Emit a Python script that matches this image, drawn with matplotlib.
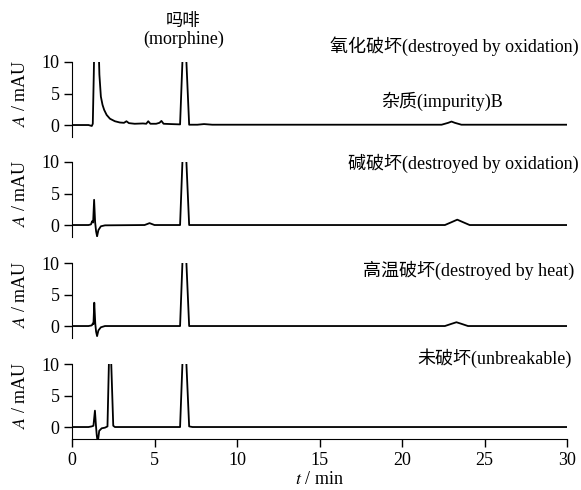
import numpy as np
import matplotlib
matplotlib.use('Agg')
import matplotlib.pyplot as plt

plt.rcParams['font.family'] = ['Liberation Serif', 'Noto Sans CJK SC']
plt.rcParams['mathtext.fontset'] = 'stix'

# chromatogram traces: (t / min, A / mAU)
oxid_t = [0, 1.0, 1.2, 1.26, 1.32, 1.36, 1.6, 1.66, 1.75, 1.85, 1.95, 2.1, 2.3, 2.6, 2.9, 3.15, 3.3, 3.45,
          3.8, 4.3, 4.5, 4.62, 4.75, 5.1, 5.3, 5.42, 5.55, 6.0, 6.55, 6.72, 6.9, 7.1, 7.6,
          8.0, 8.5, 22.4, 22.8, 23.0, 23.2, 23.6, 30]
oxid_A = [0, 0, -0.15, 0.2, 8, 14, 14, 8, 4.5, 3.2, 2.4, 1.6, 1.0, 0.6, 0.4, 0.35, 0.6, 0.3,
          0.2, 0.25, 0.2, 0.6, 0.2, 0.2, 0.35, 0.65, 0.2, 0.15, 0.1, 12, 12, 0.05, 0.05,
          0.15, 0.05, 0.05, 0.35, 0.55, 0.35, 0.05, 0.05]

base_t = [0, 1.0, 1.15, 1.22, 1.28, 1.34, 1.4, 1.46, 1.52, 1.6, 1.75, 2.0, 4.4, 4.7, 5.0, 6.55,
          6.72, 6.9, 7.1, 8.0, 22.6, 23.0, 23.35, 23.7, 24.1, 30]
base_A = [0, 0, 0.1, 0.6, 0.4, 4.0, 0.5, -1.0, -1.8, -0.8, -0.2, -0.05, 0.0, 0.3, 0.0, 0.0,
          12, 12, 0.0, 0.0, 0.0, 0.45, 0.85, 0.45, 0.0, 0.0]

heat_t = [0, 1.0, 1.2, 1.26, 1.3, 1.35, 1.41, 1.46, 1.52, 1.6, 1.75, 2.0, 6.55,
          6.72, 6.9, 7.1, 8.0, 22.6, 23.0, 23.3, 23.6, 24.0, 30]
heat_A = [0, 0, 0.1, 0.4, 0.3, 3.7, 0.4, -0.9, -1.6, -0.7, -0.2, 0.0, 0.0,
          12, 12, 0.0, 0.0, 0.0, 0.35, 0.6, 0.35, 0.0, 0.0]

none_t = [0, 1.0, 1.2, 1.3, 1.39, 1.45, 1.5, 1.56, 1.65, 1.8, 2.0, 2.15, 2.27, 2.33, 2.5,
          2.6, 6.55, 6.72, 6.9, 7.1, 7.3, 8.0, 30]
none_A = [0, 0, 0.1, 0.2, 2.6, 0.3, -1.3, -2.5, -0.6, -0.2, -0.1, 0.1, 14, 14, 0.2,
          0.0, 0.0, 12, 12, 0.1, 0.0, 0.0, 0.0]

traces = [(oxid_t, oxid_A), (base_t, base_A), (heat_t, heat_A), (none_t, none_A)]

# panel captions: (text, t, A)
captions = [
    ('氧化破坏(destroyed by oxidation)', 30.7, 12.5),
    ('碱破坏(destroyed by oxidation)', 30.7, 9.8),
    ('高温破坏(destroyed by heat)', 30.45, 8.9),
    ('未破坏(unbreakable)', 30.3, 11.0),
]

fig = plt.figure(figsize=(5.81, 4.90), dpi=100)

W, H = 581.0, 490.0
left, right = 72 / W, 567 / W
tops = [62, 162, 263, 364]
ph = 75  # panel height in pixels

axes = []
for i, (t, A) in enumerate(traces):
    ax = fig.add_axes([left, 1 - (tops[i] + ph) / H, right - left, ph / H])
    ax.plot(t, A, color='black', lw=1.3)
    ax.set_xlim(0, 30)
    ax.set_ylim(-1.9, 10)
    ax.set_yticks([0, 5, 10])
    ax.spines['top'].set_visible(False)
    ax.spines['right'].set_visible(False)
    ax.tick_params(axis='y', direction='out', length=6, width=1, labelsize=13, pad=3)
    ax.set_ylabel('$A$ / mAU', fontsize=13)
    ax.yaxis.set_label_coords(-0.086, 0.58)
    if i < 3:
        ax.spines['bottom'].set_visible(False)
        ax.tick_params(axis='x', bottom=False, labelbottom=False)
    else:
        ax.set_xticks([0, 5, 10, 15, 20, 25, 30])
        ax.tick_params(axis='x', direction='out', length=6, width=1, labelsize=13, pad=3)
        ax.set_xlabel('$t$ / min', fontsize=13, labelpad=2)
    txt, tx, ty = captions[i]
    ax.text(tx, ty, txt, ha='right', va='center', fontsize=13, clip_on=False)
    axes.append(ax)

# peak annotations
axes[0].text(6.75, 16.3, '吗啡', ha='center', va='center', fontsize=12.5)
axes[0].text(6.75, 13.6, '(morphine)', ha='center', va='center', fontsize=13)
axes[0].text(22.4, 3.8, '杂质(impurity)B', ha='center', va='center', fontsize=13)

fig.savefig('out.png', dpi=100)
